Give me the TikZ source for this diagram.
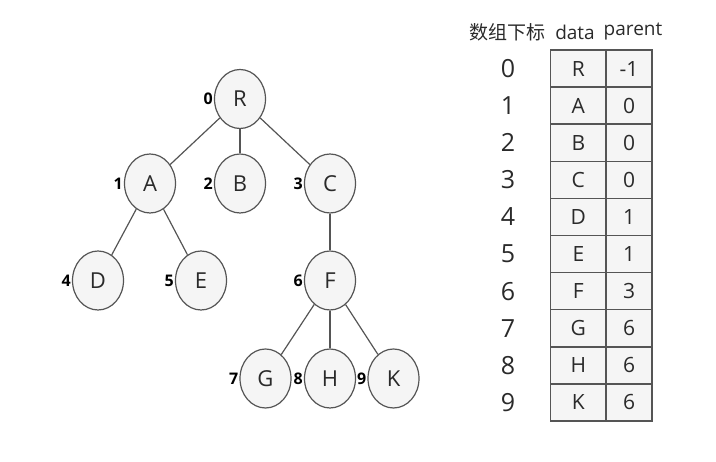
\documentclass[tikz,border=0pt]{standalone}
\usepackage{fontspec}
\setmainfont{Open Sans}
\newfontfamily\cjk{Noto Sans CJK SC}
\usetikzlibrary{shapes.geometric}

\definecolor{cellfill}{HTML}{F5F5F5}
\definecolor{edgegray}{HTML}{555555}
\definecolor{textgray}{HTML}{2A2A2A}

\begin{document}
\begin{tikzpicture}[x=1pt, y=-1pt,
    every node/.style={text=textgray},
    treenode/.style={ellipse, draw=edgegray, fill=cellfill, line width=1.2pt,
        minimum width=51pt, minimum height=59pt, inner sep=0pt,
        font=\fontsize{22}{22}\selectfont},
    idx/.style={label distance=5pt,
        label={[text=black, inner sep=1pt]left:{\fontsize{16}{16}\selectfont\bfseries #1}}},
    cell/.style={rectangle, draw=edgegray, fill=cellfill, line width=1.5pt,
        minimum height=37.1pt, inner sep=0pt, font=\fontsize{21}{21}\selectfont},
    edge/.style={draw=edgegray, line width=1.2pt}]
    \useasboundingbox (0,0) rectangle (716,462);

    % tree
    \node (R) [treenode, idx=0]                                   at (240,99) {R};
    \node (B) [treenode, idx=2, below of=R, node distance=84.5pt] {B};
    \node (A) [treenode, idx=1, left of=B,  node distance=90pt]   {A};
    \node (C) [treenode, idx=3, right of=B, node distance=90pt]   {C};
    \node (F) [treenode, idx=6, below of=C, node distance=97pt]   {F};
    \node (E) [treenode, idx=5, left of=F,  node distance=129pt]  {E};
    \node (D) [treenode, idx=4, left of=E,  node distance=103pt]  {D};
    \node (H) [treenode, idx=8, below of=F, node distance=98pt]   {H};
    \node (G) [treenode, idx=7, left of=H,  node distance=64.5pt] {G};
    \node (K) [treenode, idx=9, right of=H, node distance=63.5pt] {K};

    \draw[edge] (R) -- (A);
    \draw[edge] (R) -- (B);
    \draw[edge] (R) -- (C);
    \draw[edge] (A) -- (D);
    \draw[edge] (A) -- (E);
    \draw[edge] (C) -- (F);
    \draw[edge] (F) -- (G);
    \draw[edge] (F) -- (H);
    \draw[edge] (F) -- (K);

    % table
    \node (head0) at (507,32) {\fontsize{19}{19}\selectfont\cjk 数组下标};
    \node (head1) at (575,32) {\fontsize{19}{19}\selectfont data};
    \node (head2) at (633,32) {\fontsize{19}{19}\selectfont parent};

    \foreach \i/\d/\p in {0/R/-1, 1/A/0, 2/B/0, 3/C/0, 4/D/1,
                          5/E/1, 6/F/3, 7/G/6, 8/H/6, 9/K/6} {
        \node (num\i) at (508, 50+37.1*\i+18.55)
            {\fontsize{25}{25}\selectfont \i};
        \node (dat\i) [cell, minimum width=55.3pt] at (578.35, 50+37.1*\i+18.55) {\d};
        \node (par\i) [cell, minimum width=46pt]   at (629, 50+37.1*\i+18.55) {\p};
    }
\end{tikzpicture}
\end{document}
